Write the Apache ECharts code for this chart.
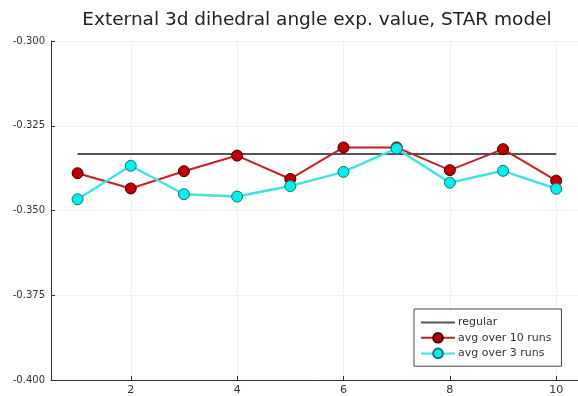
<!DOCTYPE html>
<html>
<head>
<meta charset="utf-8">
<script src="https://cdn.jsdelivr.net/npm/echarts@6/dist/echarts.min.js"></script>
<style>html,body{margin:0;padding:0;background:#fff;}#chart{width:578px;height:396px;}</style>
</head>
<body>
<div id="chart"></div>
<script>
const xValues = [1, 2, 3, 4, 5, 6, 7, 8, 9, 10];
const regularValues = [-0.3333, -0.3333, -0.3333, -0.3333, -0.3333, -0.3333, -0.3333, -0.3333, -0.3333, -0.3333];
const avg10Values = [-0.3390, -0.3435, -0.3384, -0.3338, -0.3407, -0.3314, -0.3314, -0.3381, -0.3319, -0.3412];
const avg3Values = [-0.3467, -0.3368, -0.3452, -0.3459, -0.3428, -0.3386, -0.3317, -0.3418, -0.3383, -0.3436];
const xTicks = [2, 4, 6, 8, 10];
const seriesNames = ['regular', 'avg over 10 runs', 'avg over 3 runs'];
const titleText = 'External 3d dihedral angle exp. value, STAR model';

const pair = (vals) => xValues.map((x, i) => [x, vals[i]]);
const font = 'DejaVu Sans';

const chart = echarts.init(document.getElementById('chart'), null, {renderer: 'canvas'});
chart.setOption({
  animation: false,
  backgroundColor: '#ffffff',
  title: {
    text: titleText,
    left: 312, top: 6, textAlign: 'center',
    textStyle: {fontFamily: font, fontSize: 18.5, fontWeight: 'normal', color: '#222'}
  },
  grid: {left: 51, right: 0, top: 41, bottom: 16, containLabel: false},
  legend: {
    orient: 'vertical',
    left: 414, top: 309,
    width: 152,
    backgroundColor: '#fff',
    borderColor: '#444', borderWidth: 1, borderRadius: 0,
    padding: [8, 10, 7, 6],
    itemGap: 4,
    itemWidth: 34, itemHeight: 12,
    textStyle: {fontFamily: font, fontSize: 11, color: '#333', padding: [0, 0, 0, -2]},
    data: [
      {name: seriesNames[0], itemStyle: {color: 'rgba(0,0,0,0)', borderWidth: 0, opacity: 0}},
      seriesNames[1],
      seriesNames[2]
    ]
  },
  xAxis: {
    type: 'value', min: 0.5, max: 10.41,
    axisLine: {show: true, onZero: false, lineStyle: {color: '#333', width: 1}},
    axisTick: {show: true, inside: true, length: 4, customValues: xTicks, lineStyle: {color: '#333'}},
    axisLabel: {customValues: xTicks, fontFamily: font, fontSize: 11, color: '#333', margin: 5},
    splitLine: {show: true, lineStyle: {color: '#f0f0f0', width: 1}},
    splitNumber: 5
  },
  yAxis: {
    type: 'value', min: -0.4, max: -0.3, interval: 0.025,
    axisLine: {show: true, onZero: false, lineStyle: {color: '#333', width: 1}},
    axisTick: {show: true, inside: true, length: 4, lineStyle: {color: '#333'}},
    axisLabel: {fontFamily: font, fontSize: 10, color: '#333', margin: 6,
      formatter: (v) => v.toFixed(3)},
    splitLine: {show: true, lineStyle: {color: '#f0f0f0', width: 1}}
  },
  series: [
    {
      name: seriesNames[0], type: 'line', data: pair(regularValues),
      showSymbol: false, symbol: 'none',
      lineStyle: {color: '#555555', width: 2},
      itemStyle: {color: '#555555'}
    },
    {
      name: seriesNames[1], type: 'line', data: pair(avg10Values),
      symbol: 'circle', symbolSize: 11,
      lineStyle: {color: '#cc1f1f', width: 2},
      itemStyle: {color: '#c00000', borderColor: '#3a0000', borderWidth: 1}
    },
    {
      name: seriesNames[2], type: 'line', data: pair(avg3Values),
      symbol: 'circle', symbolSize: 11,
      lineStyle: {color: '#3ae6e6', width: 2.5},
      itemStyle: {color: '#00f0f0', borderColor: '#1f6f6f', borderWidth: 1}
    }
  ]
});
</script>
</body>
</html>
